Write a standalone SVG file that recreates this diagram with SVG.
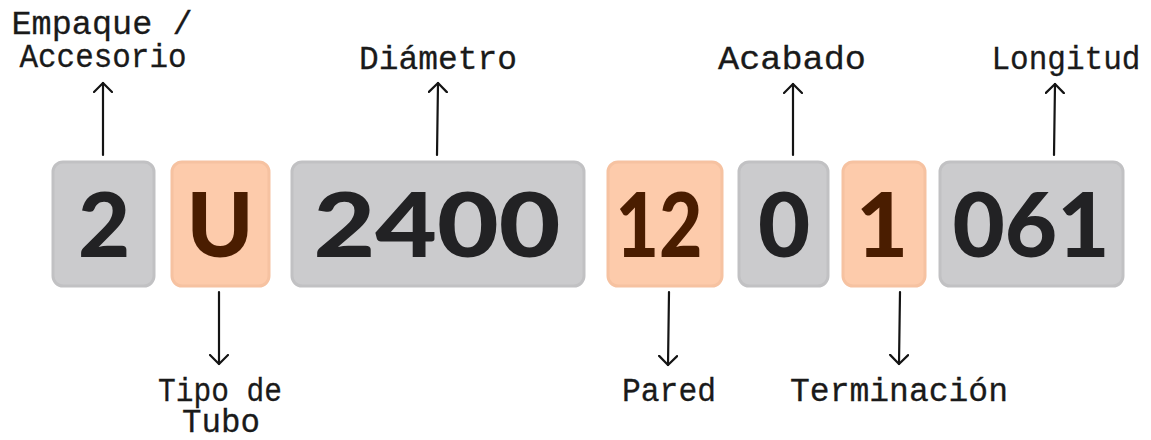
<svg xmlns="http://www.w3.org/2000/svg" width="1151" height="440" viewBox="0 0 1151 440">
<defs>
<style>
.gray{fill:#cbcbcd;stroke:#c1c1c3;stroke-width:3}
.orange{fill:#fdcbab;stroke:#f6c2a1;stroke-width:3}
.dg{font-family:Lato,"Open Sans",sans-serif;font-weight:900;font-size:90px;fill:#222224;text-anchor:middle}
.do{font-family:Lato,"Open Sans",sans-serif;font-weight:900;font-size:90px;fill:#4a1d00;text-anchor:middle}
.lbl{font-family:"Liberation Mono","DejaVu Sans Mono",monospace;font-size:34px;fill:#1a1a1a;text-anchor:middle;stroke:#1a1a1a;stroke-width:0.3}
.arr{stroke:#141414;stroke-width:2.2;fill:none;stroke-linecap:round}
</style>
<marker id="head" viewBox="-10 -10 20 20" markerWidth="20" markerHeight="20" refX="0" refY="0" orient="auto" markerUnits="userSpaceOnUse">
<path d="M-9,-9 L0,0 L-9,9" fill="none" stroke="#141414" stroke-width="2.2" stroke-linecap="round" stroke-linejoin="round"/>
</marker>
</defs>
<rect width="1151" height="440" fill="#ffffff"/>
<g id="node-empaque">
<rect class="gray" x="53" y="162" width="101" height="124" rx="10"/>
<text class="dg" x="104" y="257">2</text>
<text class="lbl" x="102" y="34" textLength="181" lengthAdjust="spacingAndGlyphs">Empaque /</text>
<text class="lbl" x="103" y="67" textLength="167" lengthAdjust="spacingAndGlyphs">Accesorio</text>
</g>
<g id="node-tipo">
<rect class="orange" x="172" y="162" width="97" height="124" rx="10"/>
<text class="do" x="220" y="257">U</text>
<text class="lbl" x="220" y="401" textLength="124" lengthAdjust="spacingAndGlyphs">Tipo de</text>
<text class="lbl" x="221" y="432" textLength="78" lengthAdjust="spacingAndGlyphs">Tubo</text>
</g>
<g id="node-diametro">
<rect class="gray" x="292" y="162" width="292" height="124" rx="10"/>
<text class="dg" x="437" y="257" textLength="247" lengthAdjust="spacingAndGlyphs">2400</text>
<text class="lbl" x="438" y="69" textLength="158" lengthAdjust="spacingAndGlyphs">Diámetro</text>
</g>
<g id="node-pared">
<rect class="orange" x="608" y="162" width="114" height="124" rx="10"/>
<text class="do" x="659" y="257" textLength="87" lengthAdjust="spacingAndGlyphs">12</text>
<text class="lbl" x="669" y="401" textLength="94" lengthAdjust="spacingAndGlyphs">Pared</text>
</g>
<g id="node-acabado">
<rect class="gray" x="739" y="162" width="89" height="124" rx="10"/>
<text class="dg" x="784" y="257">0</text>
<text class="lbl" x="792" y="69" textLength="148" lengthAdjust="spacingAndGlyphs">Acabado</text>
</g>
<g id="node-terminacion">
<rect class="orange" x="843" y="162" width="82" height="124" rx="10"/>
<text class="do" x="882" y="257">1</text>
<text class="lbl" x="899" y="401" textLength="218" lengthAdjust="spacingAndGlyphs">Terminación</text>
</g>
<g id="node-longitud">
<rect class="gray" x="940" y="162" width="183" height="124" rx="10"/>
<text class="dg" x="1031" y="257" textLength="157" lengthAdjust="spacingAndGlyphs">061</text>
<text class="lbl" x="1066" y="69" textLength="149" lengthAdjust="spacingAndGlyphs">Longitud</text>
</g>
<g id="connectors">
<line class="arr" x1="103" y1="155" x2="103" y2="83" marker-end="url(#head)"/>
<line class="arr" x1="437" y1="155" x2="438" y2="83" marker-end="url(#head)"/>
<line class="arr" x1="793" y1="155" x2="793" y2="84" marker-end="url(#head)"/>
<line class="arr" x1="1054" y1="155" x2="1055" y2="84" marker-end="url(#head)"/>
<line class="arr" x1="219" y1="292" x2="219" y2="364" marker-end="url(#head)"/>
<line class="arr" x1="669" y1="292" x2="668" y2="365" marker-end="url(#head)"/>
<line class="arr" x1="900" y1="292" x2="899" y2="364" marker-end="url(#head)"/>
</g>
</svg>
